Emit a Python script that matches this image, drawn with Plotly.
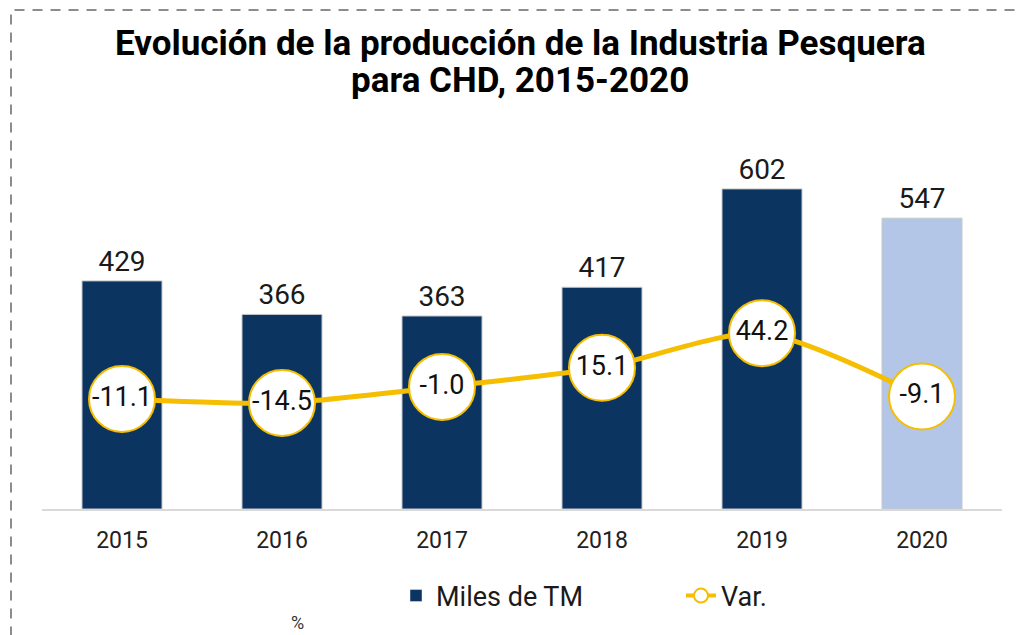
import plotly.graph_objects as go

years = ["2015", "2016", "2017", "2018", "2019", "2020"]
miles_tm = [429, 366, 363, 417, 602, 547]
var_pct = [-11.1, -14.5, -1.0, 15.1, 44.2, -9.1]
bar_colors = ["#0b3461", "#0b3461", "#0b3461", "#0b3461", "#0b3461", "#b4c6e7"]
title_line1 = "<b>Evolución de la producción de la Industria Pesquera</b>"
title_line2 = "<b>para CHD, 2015-2020</b>"

FONT = "Roboto, Arial, sans-serif"
YELLOW = "#f5be00"

fig = go.Figure()

fig.add_trace(go.Bar(
    x=years, y=miles_tm, marker=dict(color=bar_colors, line=dict(color="#c8c8c8", width=1)),
    text=[str(v) for v in miles_tm], textposition="outside",
    textfont=dict(family=FONT, size=28, color="#1a1a1a"),
    cliponaxis=False, showlegend=False, hoverinfo="skip",
))

fig.add_trace(go.Scatter(
    x=years, y=var_pct, yaxis="y2", mode="lines+markers+text",
    line=dict(color=YELLOW, width=5, shape="spline", smoothing=0.7),
    marker=dict(size=66, color="white", line=dict(color=YELLOW, width=2)),
    text=[f"{v:.1f}" for v in var_pct], textposition="middle center",
    textfont=dict(family=FONT, size=27, color="#111111"),
    cliponaxis=False, showlegend=False, hoverinfo="skip",
))

# legend entries
fig.add_trace(go.Bar(x=[None], y=[None], name="Miles de TM", marker=dict(color="#0b3461")))
fig.add_trace(go.Scatter(x=[None], y=[None], name="Var.", mode="lines+markers",
                         line=dict(color=YELLOW, width=4),
                         marker=dict(size=14, color="white", line=dict(color=YELLOW, width=2))))


def py(px):
    return (509 - px) / 369


def pxx(px):
    return (px - 42) / 960


fig.update_layout(
    width=1022, height=635,
    margin=dict(l=42, r=20, t=140, b=126, autoexpand=False),
    paper_bgcolor="white", plot_bgcolor="white",
    bargap=0.5,
    font=dict(family=FONT),
    xaxis=dict(range=[-0.5, 5.5], showgrid=False, showline=True, linecolor="#d9d9d9", linewidth=2,
               ticks="", ticklabelstandoff=9,
               tickfont=dict(family=FONT, size=23, color="#222222")),
    yaxis=dict(range=[0, 694], visible=False, showgrid=False),
    yaxis2=dict(range=[-103.6, 206.5], overlaying="y", visible=False, showgrid=False),
    legend=dict(orientation="h", x=pxx(396), xanchor="left", y=py(596), yanchor="middle",
                font=dict(family=FONT, size=27, color="#1a1a1a"),
                entrywidth=240, entrywidthmode="pixels", itemwidth=30),
    shapes=[dict(type="rect", xref="paper", yref="paper", x0=pxx(11), x1=1.1, y0=-0.5, y1=py(10),
                 line=dict(color="#8c8c8c", width=2, dash="10px,8px"), fillcolor="rgba(0,0,0,0)")],
    annotations=[
        dict(text=title_line1, xref="paper", yref="paper", x=pxx(520), y=py(43), showarrow=False,
             font=dict(family=FONT, size=35, color="#000000"), xanchor="center", yanchor="middle"),
        dict(text=title_line2, xref="paper", yref="paper", x=pxx(520), y=py(81), showarrow=False,
             font=dict(family=FONT, size=35, color="#000000"), xanchor="center", yanchor="middle"),
        dict(text="%", xref="paper", yref="paper", x=pxx(297), y=py(622),
             showarrow=False, font=dict(family=FONT, size=18, color="#333333"),
             xanchor="center", yanchor="middle"),
    ],
)

fig.write_html("out.html", config={"displayModeBar": False},
               post_script="document.body.style.margin='0';")
